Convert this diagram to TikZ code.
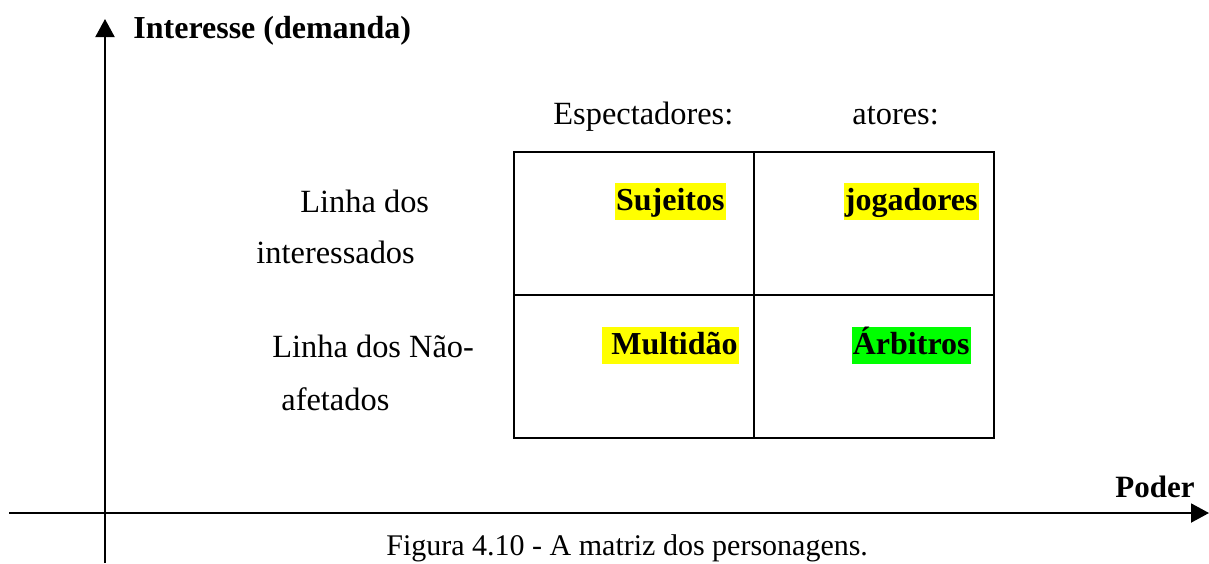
\documentclass[tikz,border=0pt]{standalone}
\usepackage{fontspec}
\setmainfont{Liberation Serif}
\usetikzlibrary{arrows.meta}
\definecolor{hlyellow}{RGB}{255,255,0}
\definecolor{hlgreen}{RGB}{0,255,0}
\tikzset{
  axis/.style={line width=1pt,-{Triangle[length=9pt,width=9.5pt]}},
  cell/.style={draw,line width=1pt,minimum width=120pt,minimum height=71.5pt,inner sep=0pt},
  txt/.style={anchor=base west,inner sep=0pt,font=\fontsize{16.2}{19}\selectfont},
  tag/.style={anchor=east,inner xsep=0.5pt,inner ysep=0pt,text height=13.5pt,text depth=5pt,font=\fontsize{16}{19}\selectfont\bfseries},
}
\begin{document}
\begin{tikzpicture}[x=0.5pt,y=-0.5pt]
\useasboundingbox (0,0) rectangle (1209,563);
\coordinate (ybot) at (105,563);
\coordinate (ytop) at (105,19);
\coordinate (xleft) at (9,513);
\coordinate (xright) at (1209,513);
\draw [axis] (ybot) -- (ytop);
\draw [axis] (xleft) -- (xright);
\node [txt,font=\fontsize{16}{19}\selectfont\bfseries] (interesse) at (133,38) {Interesse (demanda)};
\node [txt,font=\fontsize{15.5}{19}\selectfont\bfseries] (poder) at (1115,497) {Poder};
\node [txt,font=\fontsize{15}{18}\selectfont] (legenda) at (386,555) {Figura 4.10 - A matriz dos personagens.};
\node [txt] (espect) at (553,124) {Espectadores:};
\node [txt] (atores) at (852,124) {atores:};
\node [cell] (c11) at (634,223) {};
\node [cell] (c12) at (874,223) {};
\node [cell] (c21) at (634,366) {};
\node [cell] (c22) at (874,366) {};
\node [tag,fill=hlyellow] (sujeitos) at (726,201.5) {Sujeitos};
\node [tag,fill=hlyellow] (jogadores) at (979,201.5) {jogadores};
\node [tag,fill=hlyellow] (multidao) at (739,345.5) {\ Multidão};
\node [tag,fill=hlgreen] (arbitros) at (971,345.5) {Árbitros};
\node [txt] (int1) at (300,212) {Linha dos};
\node [txt] (int2) at (256,263) {interessados};
\node [txt] (naf1) at (272,357) {Linha dos Não-};
\node [txt] (naf2) at (281,410) {afetados};
\end{tikzpicture}
\end{document}
